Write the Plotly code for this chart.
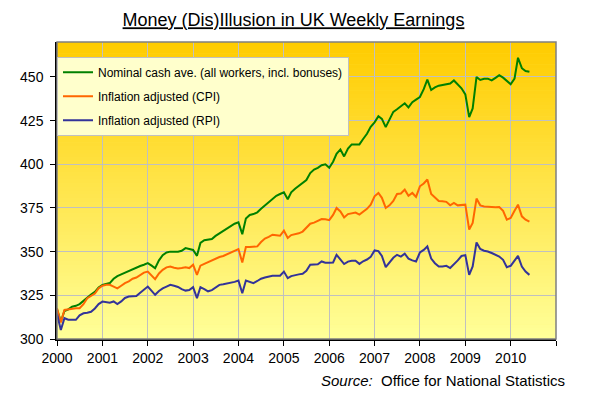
import plotly.graph_objects as go
import pandas as pd

# Monthly data, Jan 2000 - Jun 2010 (weekly earnings, GBP)
months = pd.date_range("2000-01-01", periods=126, freq="MS")

nominal = [
    317, 310, 316, 317, 318.5, 319, 320, 322, 324, 325.5, 327, 329.5,          # 2000
    331, 331.5, 332, 334.5, 336, 337, 338, 338.6, 340, 341, 341.8, 342.5,      # 2001
    343.4, 342, 340.5, 345, 348, 349.5, 350, 350, 350, 350.5, 352, 351.5,      # 2002
    351, 347.6, 355, 356.5, 357, 357.2, 359, 360.5, 361.5, 363, 364.5, 366,    # 2003
    366.8, 360, 369, 371, 371.5, 372.5, 374.5, 376.5, 378, 380.5, 382, 383,    # 2004
    384, 380, 384, 386, 387.5, 389, 391, 395, 397, 398, 399.5, 400,            # 2005
    398, 401.5, 406, 408.5, 404.5, 409, 411.4, 411.4, 411.4, 414.5, 417.5, 421.5,  # 2006
    424, 427.5, 426, 421.3, 426, 430, 431.5, 433, 434.9, 432.6, 435.5, 437,    # 2007
    438.5, 443, 448.5, 442.5, 444, 445, 445.3, 445.8, 446.2, 448, 445.5, 443.5,  # 2008
    440, 427, 432, 450, 448.3, 449, 449, 448, 449.5, 451, 449.6, 447.5,        # 2009
    445.8, 449, 461, 455, 453.4, 453,                                          # 2010
]

cpi_adj = [
    317.6, 309.5, 316.6, 317, 317.5, 317.6, 317.6, 320, 323.4, 324.5, 326, 329,
    330.5, 331, 331, 330, 329, 330.5, 332, 333, 334.5, 335.2, 336.5, 338,
    338.6, 336.5, 334.3, 337.5, 339.6, 341, 341.5, 340.8, 340.3, 340.6, 341, 340.6,
    342.5, 336.7, 342, 343, 344, 344.8, 345.8, 346.9, 347.5, 348.5, 349.2, 350.5,
    351.5, 343.8, 352.6, 352.6, 352.6, 353, 355.5, 357.5, 358.5, 359.7, 359.4, 359.1,
    362, 357.8, 359.5, 360, 360.5, 361.5, 363.5, 366, 366.6, 367.5, 368.7, 368.5,
    368, 371, 375, 373, 369.6, 371.5, 372.1, 372.4, 371.2, 373, 374.5, 376.9,
    381.7, 383.6, 380.8, 375, 376.5, 379, 383, 383.3, 385.5, 382, 383.6, 381.3,
    387.4, 389, 391.3, 383, 381.3, 379, 378.8, 378.5, 376.5, 377.9, 376.5, 376.5,
    376.9, 362.6, 366.4, 380.4, 376.5, 375.8, 375.6, 375.2, 375.4, 375.6, 373.4, 368.3,
    369.3, 373.4, 376.9, 370.2, 368.3, 367.2,
]

rpi_adj = [
    314.4, 305.2, 311.9, 311, 311, 311, 313.5, 314.7, 315, 315.6, 317.5, 320,
    321.4, 321, 320.8, 321.5, 320, 321.5, 323.5, 324.3, 324.4, 324.6, 326.5, 328.5,
    330, 327.5, 325.3, 327.5, 329, 330, 331, 330.5, 329.8, 328.5, 327.7, 328,
    329.7, 323.4, 329.7, 328.5, 327.3, 328, 329.5, 331, 331.3, 331.7, 332, 332.7,
    333.5, 326.2, 333.5, 332.8, 332, 333.2, 334.5, 335.2, 335.7, 336.2, 336.2, 336.2,
    338.6, 334.8, 336, 336.7, 337, 337.3, 339, 342.5, 342.5, 342.8, 344.4, 343.7,
    343.6, 343.8, 348.2, 345.5, 342.9, 344.3, 344.8, 344.8, 343, 344.5, 345.5, 347,
    350.7, 350.3, 347.5, 341.1, 343.5, 346.5, 348.2, 347.2, 348.8, 346, 345, 344.4,
    349.5, 351, 353, 346, 343.4, 341.5, 341.5, 341.9, 340.6, 342.5, 345, 347.5,
    348, 336.7, 341.5, 355.3, 351.5, 350.5, 350.1, 349.2, 348.3, 347.2, 345.3, 341.1,
    341.9, 345.3, 347.6, 341.5, 338.6, 336.7,
]

series_names = [
    "Nominal cash ave. (all workers, incl. bonuses)",
    "Inflation adjusted (CPI)",
    "Inflation adjusted (RPI)",
]
series_colors = ["#008000", "#FF6600", "#333399"]

year_ticks = [str(y) for y in range(2000, 2012)]
year_labels = [str(y) for y in range(2000, 2011)] + [""]
y_ticks = [300, 325, 350, 375, 400, 425, 450]

fig = go.Figure()
for i, (vals, name, col) in enumerate(zip([nominal, cpi_adj, rpi_adj], series_names, series_colors)):
    fig.add_trace(go.Scatter(
        x=months, y=vals, mode="lines", name=name, legendgroup=f"g{i}",
        line=dict(color=col, width=2),
    ))

# vertical gradient background of plot area (gold -> pale yellow)
n_bands = 80
top = (255, 204, 0)
bot = (255, 255, 153)
for k in range(n_bands):
    f = k / (n_bands - 1)
    r = int(round(top[0] + (bot[0] - top[0]) * f))
    g = int(round(top[1] + (bot[1] - top[1]) * f))
    b = int(round(top[2] + (bot[2] - top[2]) * f))
    fig.add_shape(type="rect", xref="paper", yref="paper",
                  x0=0, x1=1, y1=1 - k / n_bands, y0=1 - (k + 1) / n_bands - 0.002,
                  fillcolor=f"rgb({r},{g},{b})", line=dict(width=0), layer="below")

# gray plot border (top/right)
fig.add_shape(type="rect", xref="paper", yref="paper", x0=0, x1=1, y0=0, y1=1,
              line=dict(color="#808080", width=1.5), layer="above")

# the page body adds an 8px offset; figure is sized so plot area lands at 49..556 x 42..339
W, H = 586, 388
fig.update_layout(
    width=W, height=H,
    margin=dict(l=41, r=38, t=34, b=57),
    paper_bgcolor="white", plot_bgcolor="#FFEE66",
    font=dict(family="Liberation Sans, Arial, sans-serif", color="black", size=14),
    title=dict(text="<u>Money (Dis)Illusion in UK Weekly Earnings</u>",
               x=285.5 / W, xanchor="center", y=1 - 12 / H, yanchor="middle",
               font=dict(size=18, color="black")),
    showlegend=True,
    legend=dict(x=0.0, y=0.95, xanchor="left", yanchor="top",
                bgcolor="#FFFFCC", bordercolor="#C0C0C0", borderwidth=1,
                font=dict(size=12, color="black"),
                traceorder="grouped", tracegroupgap=5),
    xaxis=dict(range=["2000-01-01", "2011-01-01"], tickmode="array",
               tickvals=[f"{y}-01-01" for y in year_ticks], ticktext=year_labels,
               showgrid=True, gridcolor="#C0C0C0", gridwidth=1,
               showline=True, linecolor="black", linewidth=1.5,
               ticks="outside", ticklen=5, tickcolor="black",
               tickfont=dict(size=14), zeroline=False),
    yaxis=dict(range=[300, 470], tickmode="array", tickvals=y_ticks,
               showgrid=True, gridcolor="#C0C0C0", gridwidth=1,
               showline=True, linecolor="black", linewidth=1.5,
               ticks="outside", ticklen=5, tickcolor="black",
               ticklabelstandoff=4,
               tickfont=dict(size=14), zeroline=False),
)

fig.add_annotation(
    text="<i>Source:</i>\u00a0\u00a0Office for National Statistics",
    xref="paper", yref="paper", x=(567 - 49) / 507, y=(339 - 380) / 297,
    xanchor="right", yanchor="middle", showarrow=False,
    font=dict(size=15, color="black"),
)

fig.write_html("out.html")
